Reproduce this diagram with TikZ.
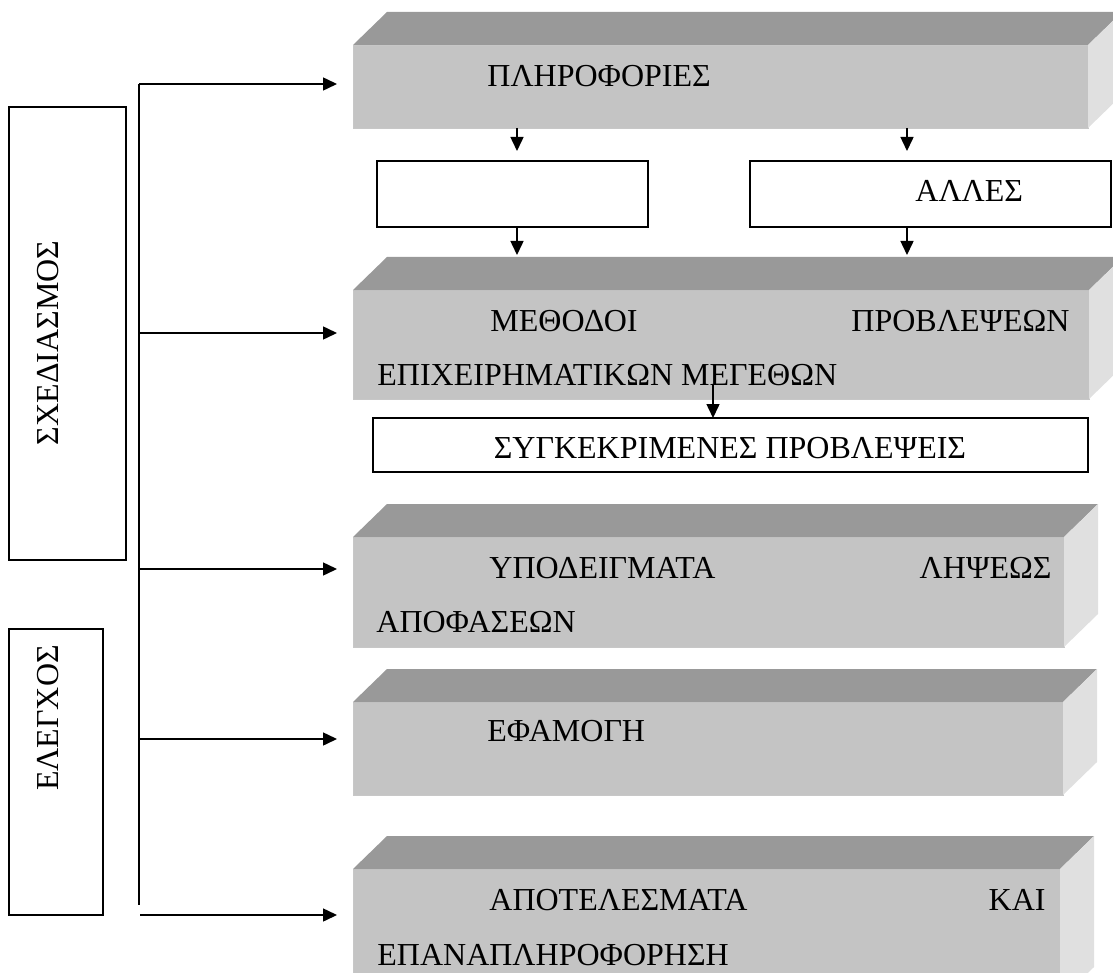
\documentclass[tikz,border=0pt]{standalone}
\usepackage{fontspec}
\setmainfont{Liberation Serif}
\usetikzlibrary{arrows.meta}
\definecolor{slabfront}{HTML}{C4C4C4}
\definecolor{slabroof}{HTML}{999999}
\definecolor{slabwall}{HTML}{E0E0E0}
\tikzset{
  slab/.style={fill=slabfront, draw=black!22, line width=0.4pt, anchor=north west, inner sep=0pt, outer sep=0pt},
  roof/.style={fill=slabroof},
  wall/.style={fill=slabwall},
  plainbox/.style={draw, line width=0.75pt, anchor=north west, inner sep=0pt, outer sep=0pt},
  fwd/.style={-{Triangle[length=7pt,width=6.5pt]}, line width=0.75pt},
  lbl/.style={anchor=base west, inner sep=0pt, font=\fontsize{16}{19}\selectfont},
  lblr/.style={lbl, anchor=base east},
}

\begin{document}
\begin{tikzpicture}[x=0.5pt, y=-0.5pt]
  \useasboundingbox (0,0) rectangle (1113,973);

  % front faces of the slabs
  \node[slab, minimum width=367.5pt, minimum height=41.5pt] (info) at (353,45) {};
  \node[slab, minimum width=368pt, minimum height=54.5pt] (meth) at (353,290) {};
  \node[slab, minimum width=355.5pt, minimum height=55pt] (model) at (353,537) {};
  \node[slab, minimum width=355pt, minimum height=46.5pt] (appl) at (353,702) {};
  \node[slab, minimum width=353.5pt, minimum height=65.5pt] (res) at (353,869) {};

  % roof and side wall of each slab
  \foreach \b in {info,meth,model,appl,res}{
    \fill[roof] (\b.north west) -- ++(34,-33) -- ([shift={(34,-33)}]\b.north east) -- (\b.north east) -- cycle;
    \fill[wall] (\b.north east) -- ++(34,-33) -- ([shift={(34,-33)}]\b.south east) -- (\b.south east) -- cycle;
    \coordinate (\b-back) at ([shift={(34,-33)}]\b.north west);
  }

  % white boxes
  \node[plainbox, minimum width=135.5pt, minimum height=33pt] (plain) at (377,161) {};
  \node[plainbox, minimum width=180.5pt, minimum height=33pt] (other) at (750,161) {};
  \node[plainbox, minimum width=357.5pt, minimum height=27pt] (spec) at (373,418) {};
  \node[plainbox, minimum width=58.5pt, minimum height=226.5pt] (plan) at (9,107) {};
  \node[plainbox, minimum width=47pt, minimum height=143pt] (ctrl) at (9,629) {};

  % texts
  \node[lbl] (info-t) at (487,87) {ΠΛΗΡΟΦΟΡΙΕΣ};
  \node[lbl] (other-t) at (915,202) {ΑΛΛΕΣ};
  \node[lbl] (meth-t1) at (490,331) {ΜΕΘΟΔΟΙ};
  \node[lblr] (meth-t2) at (1070,331) {ΠΡΟΒΛΕΨΕΩΝ};
  \node[lbl] (meth-t3) at (377,385) {ΕΠΙΧΕΙΡΗΜΑΤΙΚΩΝ ΜΕΓΕΘΩΝ};
  \node[lbl, anchor=base] (spec-t) at (730,458) {ΣΥΓΚΕΚΡΙΜΕΝΕΣ ΠΡΟΒΛΕΨΕΙΣ};
  \node[lbl] (model-t1) at (489,578) {ΥΠΟΔΕΙΓΜΑΤΑ};
  \node[lblr] (model-t2) at (1052,578) {ΛΗΨΕΩΣ};
  \node[lbl] (model-t3) at (376,632) {ΑΠΟΦΑΣΕΩΝ};
  \node[lbl] (appl-t) at (487,741) {ΕΦΑΜΟΓΗ};
  \node[lbl] (res-t1) at (489,910) {ΑΠΟΤΕΛΕΣΜΑΤΑ};
  \node[lblr] (res-t2) at (1046,910) {ΚΑΙ};
  \node[lbl] (res-t3) at (377,965) {ΕΠΑΝΑΠΛΗΡΟΦΟΡΗΣΗ};
  \node[lbl, anchor=center, rotate=90] (plan-t) at (48,343) {ΣΧΕΔΙΑΣΜΟΣ};
  \node[lbl, anchor=center, rotate=90] (ctrl-t) at (48,718) {ΕΛΕΓΧΟΣ};

  % bus on the left
  \coordinate (bustop) at (139,84);
  \coordinate (busbot) at (139,905);
  \draw[line width=0.75pt] (bustop) -- (busbot);
  \draw[fwd, shorten >=8pt] (bustop) -- (bustop -| info.west);
  \foreach \y/\b in {333/meth,569/model,739/appl}{
    \coordinate (tap-\b) at (139,\y);
    \draw[fwd, shorten >=8pt] (tap-\b) -- (tap-\b -| \b.west);
  }
  \coordinate (tap-res) at (140,915);
  \draw[fwd, shorten >=8pt] (tap-res) -- (tap-res -| res.west);

  % arrows between the upper boxes
  \coordinate (colL) at (517,0);
  \coordinate (colR) at (907,0);
  \draw[fwd, shorten >=5pt] (info.south -| colL) -- (plain.north -| colL);
  \draw[fwd, shorten >=5pt] (info.south -| colR) -- (other.north -| colR);
  \draw[fwd, shorten >=1pt] (plain.south -| colL) -- (meth-back -| colL);
  \draw[fwd, shorten >=1pt] (other.south -| colR) -- (meth-back -| colR);
  \coordinate (split) at (713,385);
  \draw[fwd] (split) -- (split |- spec.north);
\end{tikzpicture}
\end{document}
